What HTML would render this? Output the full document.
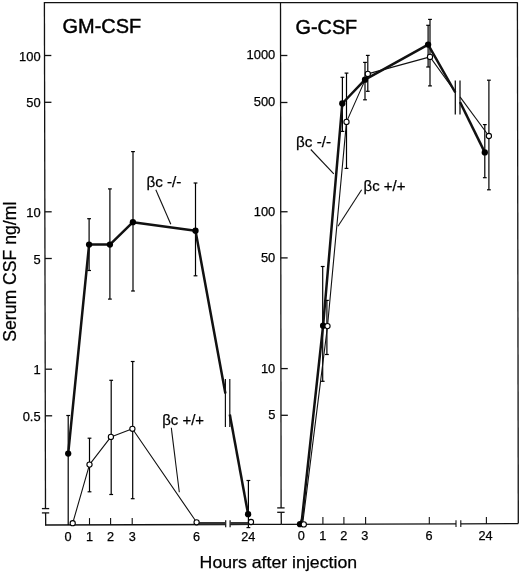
<!DOCTYPE html>
<html><head><meta charset="utf-8"><style>
html,body{margin:0;padding:0;background:#fff;}
body{width:520px;height:572px;overflow:hidden;}
svg{display:block;will-change:transform;}
text{font-family:"Liberation Sans", sans-serif;fill:#000;stroke:#000;stroke-width:0.25px;}
.big{stroke-width:0.45px;}
</style></head><body>
<svg width="520" height="572" viewBox="0 0 520 572">
<rect width="520" height="572" fill="#fff"/>
<line x1="44.4" y1="2.6" x2="517.4" y2="2.6" stroke="#111" stroke-width="1.3"/>
<line x1="44.4" y1="2.1" x2="45.5" y2="508.6" stroke="#111" stroke-width="1.3"/>
<line x1="45.6" y1="512.9" x2="45.7" y2="525.2" stroke="#111" stroke-width="1.3"/>
<line x1="41.9" y1="508.6" x2="49.2" y2="508.6" stroke="#111" stroke-width="1.3"/>
<line x1="41.9" y1="512.9" x2="49.2" y2="512.9" stroke="#111" stroke-width="1.3"/>
<line x1="280.5" y1="2.1" x2="281.1" y2="507.9" stroke="#111" stroke-width="1.3"/>
<line x1="281.2" y1="512.3" x2="281.3" y2="524.4" stroke="#111" stroke-width="1.3"/>
<line x1="277.2" y1="507.9" x2="284.6" y2="507.9" stroke="#111" stroke-width="1.3"/>
<line x1="277.2" y1="512.3" x2="284.6" y2="512.3" stroke="#111" stroke-width="1.3"/>
<line x1="517.4" y1="2.2" x2="518.3" y2="523.6" stroke="#111" stroke-width="1.3"/>
<line x1="45.0" y1="525.0" x2="225.7" y2="524.5" stroke="#111" stroke-width="1.3"/>
<line x1="230.1" y1="524.5" x2="281.3" y2="524.3" stroke="#111" stroke-width="1.3"/>
<line x1="225.7" y1="520.3" x2="225.7" y2="527.3" stroke="#111" stroke-width="1.2"/>
<line x1="230.1" y1="520.3" x2="230.1" y2="527.3" stroke="#111" stroke-width="1.2"/>
<line x1="281.3" y1="524.4" x2="456.0" y2="523.8" stroke="#111" stroke-width="1.3"/>
<line x1="460.8" y1="523.8" x2="518.3" y2="523.6" stroke="#111" stroke-width="1.3"/>
<line x1="456.0" y1="520.3" x2="456.0" y2="527.0" stroke="#111" stroke-width="1.1"/>
<line x1="460.8" y1="520.3" x2="460.8" y2="527.0" stroke="#111" stroke-width="1.1"/>
<line x1="44.52734225621415" y1="55.5" x2="51.327342256214145" y2="55.5" stroke="#111" stroke-width="1.3"/>
<text x="40.6" y="60.5" font-size="12.9" text-anchor="end" >100</text>
<line x1="44.63472275334608" y1="102.3" x2="51.43472275334608" y2="102.3" stroke="#111" stroke-width="1.3"/>
<text x="40.6" y="107.3" font-size="12.9" text-anchor="end" >50</text>
<line x1="44.88596558317399" y1="211.8" x2="51.68596558317399" y2="211.8" stroke="#111" stroke-width="1.3"/>
<text x="40.6" y="216.8" font-size="12.9" text-anchor="end" >10</text>
<line x1="44.993116634799236" y1="258.5" x2="51.79311663479923" y2="258.5" stroke="#111" stroke-width="1.3"/>
<text x="40.6" y="263.5" font-size="12.9" text-anchor="end" >5</text>
<line x1="45.247112810707456" y1="369.2" x2="52.04711281070745" y2="369.2" stroke="#111" stroke-width="1.3"/>
<text x="40.6" y="374.2" font-size="12.9" text-anchor="end" >1</text>
<line x1="45.354034416826" y1="415.8" x2="52.154034416826" y2="415.8" stroke="#111" stroke-width="1.3"/>
<text x="40.6" y="420.8" font-size="12.9" text-anchor="end" >0.5</text>
<line x1="280.5742829827916" y1="55.5" x2="287.3742829827916" y2="55.5" stroke="#111" stroke-width="1.3"/>
<text x="275.3" y="59.4" font-size="12.9" text-anchor="end" >1000</text>
<line x1="280.63718929254304" y1="102.5" x2="287.43718929254305" y2="102.5" stroke="#111" stroke-width="1.3"/>
<text x="275.3" y="106.4" font-size="12.9" text-anchor="end" >500</text>
<line x1="280.78341300191204" y1="211.75" x2="287.58341300191205" y2="211.75" stroke="#111" stroke-width="1.3"/>
<text x="275.3" y="215.65" font-size="12.9" text-anchor="end" >100</text>
<line x1="280.84518164435946" y1="257.9" x2="287.64518164435947" y2="257.9" stroke="#111" stroke-width="1.3"/>
<text x="275.3" y="261.79999999999995" font-size="12.9" text-anchor="end" >50</text>
<line x1="280.9933460803059" y1="368.6" x2="287.7933460803059" y2="368.6" stroke="#111" stroke-width="1.3"/>
<text x="275.3" y="372.5" font-size="12.9" text-anchor="end" >10</text>
<line x1="281.05585086042066" y1="415.3" x2="287.8558508604207" y2="415.3" stroke="#111" stroke-width="1.3"/>
<text x="275.3" y="419.2" font-size="12.9" text-anchor="end" >5</text>
<text x="68.1" y="540.6" font-size="12.7" text-anchor="middle" >0</text>
<line x1="89.5" y1="518.1" x2="89.5" y2="525" stroke="#111" stroke-width="1.1"/>
<text x="89.5" y="540.6" font-size="12.7" text-anchor="middle" >1</text>
<line x1="110.6" y1="518.1" x2="110.6" y2="525" stroke="#111" stroke-width="1.1"/>
<text x="110.6" y="540.6" font-size="12.7" text-anchor="middle" >2</text>
<line x1="132.2" y1="518.1" x2="132.2" y2="525" stroke="#111" stroke-width="1.1"/>
<text x="132.2" y="540.6" font-size="12.7" text-anchor="middle" >3</text>
<text x="196.5" y="540.6" font-size="12.7" text-anchor="middle" >6</text>
<text x="248.3" y="540.6" font-size="12.7" text-anchor="middle" >24</text>
<text x="301.2" y="539.9" font-size="12.7" text-anchor="middle" >0</text>
<line x1="322.9" y1="517.0" x2="322.9" y2="523.9" stroke="#111" stroke-width="1.1"/>
<text x="322.9" y="539.9" font-size="12.7" text-anchor="middle" >1</text>
<line x1="343.9" y1="517.0" x2="343.9" y2="523.9" stroke="#111" stroke-width="1.1"/>
<text x="343.7" y="539.9" font-size="12.7" text-anchor="middle" >2</text>
<line x1="365.6" y1="517.0" x2="365.6" y2="523.9" stroke="#111" stroke-width="1.1"/>
<text x="364.8" y="539.9" font-size="12.7" text-anchor="middle" >3</text>
<line x1="429.3" y1="517.0" x2="429.3" y2="523.9" stroke="#111" stroke-width="1.1"/>
<text x="429.0" y="539.9" font-size="12.7" text-anchor="middle" >6</text>
<line x1="486.4" y1="517.0" x2="486.4" y2="523.9" stroke="#111" stroke-width="1.1"/>
<text x="485.6" y="539.9" font-size="12.7" text-anchor="middle" >24</text>
<text x="62.6" y="33.1" font-size="19.5" text-anchor="start" class="big" textLength="78.6" lengthAdjust="spacingAndGlyphs">GM-CSF</text>
<text x="295.6" y="33.6" font-size="19.5" text-anchor="start" class="big" textLength="61.6" lengthAdjust="spacingAndGlyphs">G-CSF</text>
<text x="199.6" y="567.5" font-size="17.3" text-anchor="start"  textLength="157.5" lengthAdjust="spacingAndGlyphs">Hours after injection</text>
<text x="0" y="0" font-size="17.6" textLength="140" lengthAdjust="spacingAndGlyphs" transform="translate(15.5,341.7) rotate(-90)">Serum CSF ng/ml</text>
<line x1="68.2" y1="415.5" x2="68.2" y2="525" stroke="#000" stroke-width="1.2"/>
<line x1="66.3" y1="415.5" x2="70.10000000000001" y2="415.5" stroke="#000" stroke-width="1.2"/>
<line x1="89.1" y1="218.7" x2="89.1" y2="270.5" stroke="#000" stroke-width="1.2"/>
<line x1="87.19999999999999" y1="218.7" x2="91.0" y2="218.7" stroke="#000" stroke-width="1.2"/>
<line x1="87.19999999999999" y1="270.5" x2="91.0" y2="270.5" stroke="#000" stroke-width="1.2"/>
<line x1="109.9" y1="188.9" x2="109.9" y2="299.1" stroke="#000" stroke-width="1.2"/>
<line x1="108.0" y1="188.9" x2="111.80000000000001" y2="188.9" stroke="#000" stroke-width="1.2"/>
<line x1="108.0" y1="299.1" x2="111.80000000000001" y2="299.1" stroke="#000" stroke-width="1.2"/>
<line x1="133.0" y1="151.6" x2="133.0" y2="291.0" stroke="#000" stroke-width="1.2"/>
<line x1="131.1" y1="151.6" x2="134.9" y2="151.6" stroke="#000" stroke-width="1.2"/>
<line x1="131.1" y1="291.0" x2="134.9" y2="291.0" stroke="#000" stroke-width="1.2"/>
<line x1="195.5" y1="183.0" x2="195.5" y2="275.8" stroke="#000" stroke-width="1.2"/>
<line x1="193.6" y1="183.0" x2="197.4" y2="183.0" stroke="#000" stroke-width="1.2"/>
<line x1="193.6" y1="275.8" x2="197.4" y2="275.8" stroke="#000" stroke-width="1.2"/>
<line x1="248.4" y1="480.5" x2="248.4" y2="527.6" stroke="#000" stroke-width="1.2"/>
<line x1="246.5" y1="480.5" x2="250.3" y2="480.5" stroke="#000" stroke-width="1.2"/>
<line x1="246.5" y1="527.6" x2="250.3" y2="527.6" stroke="#000" stroke-width="1.2"/>
<line x1="89.5" y1="438.2" x2="89.5" y2="491.8" stroke="#000" stroke-width="1.2"/>
<line x1="87.6" y1="438.2" x2="91.4" y2="438.2" stroke="#000" stroke-width="1.2"/>
<line x1="87.6" y1="491.8" x2="91.4" y2="491.8" stroke="#000" stroke-width="1.2"/>
<line x1="111.2" y1="380.3" x2="111.2" y2="494.5" stroke="#000" stroke-width="1.2"/>
<line x1="109.3" y1="380.3" x2="113.10000000000001" y2="380.3" stroke="#000" stroke-width="1.2"/>
<line x1="109.3" y1="494.5" x2="113.10000000000001" y2="494.5" stroke="#000" stroke-width="1.2"/>
<line x1="132.7" y1="361.5" x2="132.7" y2="498.7" stroke="#000" stroke-width="1.2"/>
<line x1="130.79999999999998" y1="361.5" x2="134.6" y2="361.5" stroke="#000" stroke-width="1.2"/>
<line x1="130.79999999999998" y1="498.7" x2="134.6" y2="498.7" stroke="#000" stroke-width="1.2"/>
<polyline points="72.7,523.2 89.5,464.6 110.9,436.9 132.4,428.8 196.6,522.3" fill="none" stroke="#111" stroke-width="1.1" stroke-linejoin="round"/>
<line x1="198.5" y1="523.3" x2="225.7" y2="523.3" stroke="#333" stroke-width="2.6"/>
<line x1="230.1" y1="523.3" x2="249.0" y2="523.2" stroke="#333" stroke-width="2.6"/>
<polyline points="68.2,453.6 89.1,244.6 109.9,244.6 132.9,222.2 195.5,230.7 225.4,393.5" fill="none" stroke="#111" stroke-width="2.5" stroke-linejoin="round"/>
<polyline points="229.8,414.5 248.1,514.2" fill="none" stroke="#111" stroke-width="2.5" stroke-linejoin="round"/>
<line x1="225.4" y1="379" x2="225.4" y2="427.1" stroke="#111" stroke-width="1.2"/>
<line x1="229.8" y1="379" x2="229.8" y2="427.1" stroke="#111" stroke-width="1.2"/>
<circle cx="68.2" cy="453.6" r="3.15" fill="#000"/>
<circle cx="89.1" cy="244.6" r="3.15" fill="#000"/>
<circle cx="109.9" cy="244.6" r="3.15" fill="#000"/>
<circle cx="132.9" cy="222.2" r="3.15" fill="#000"/>
<circle cx="195.5" cy="230.7" r="3.15" fill="#000"/>
<circle cx="248.1" cy="514.2" r="3.15" fill="#000"/>
<circle cx="72.7" cy="523.2" r="2.6" fill="#fff" stroke="#000" stroke-width="1.1"/>
<circle cx="89.5" cy="464.6" r="2.6" fill="#fff" stroke="#000" stroke-width="1.1"/>
<circle cx="110.9" cy="436.9" r="2.6" fill="#fff" stroke="#000" stroke-width="1.1"/>
<circle cx="132.4" cy="428.8" r="2.6" fill="#fff" stroke="#000" stroke-width="1.1"/>
<circle cx="196.6" cy="522.3" r="2.6" fill="#fff" stroke="#000" stroke-width="1.1"/>
<circle cx="251.0" cy="522.0" r="2.6" fill="#fff" stroke="#000" stroke-width="1.1"/>
<text x="146.4" y="186.6" font-size="15.5" text-anchor="start"  textLength="35.0" lengthAdjust="spacingAndGlyphs">&#946;c -/-</text>
<line x1="155.8" y1="189.7" x2="170.8" y2="224.3" stroke="#111" stroke-width="1.1"/>
<text x="162.2" y="425.0" font-size="15.5" text-anchor="start"  textLength="41.9" lengthAdjust="spacingAndGlyphs">&#946;c +/+</text>
<line x1="171.3" y1="427.8" x2="179.3" y2="492.3" stroke="#111" stroke-width="1.1"/>
<line x1="322.7" y1="266.5" x2="322.7" y2="381.3" stroke="#000" stroke-width="1.2"/>
<line x1="320.8" y1="266.5" x2="324.59999999999997" y2="266.5" stroke="#000" stroke-width="1.2"/>
<line x1="320.8" y1="381.3" x2="324.59999999999997" y2="381.3" stroke="#000" stroke-width="1.2"/>
<line x1="342.4" y1="77.3" x2="342.4" y2="131.4" stroke="#000" stroke-width="1.2"/>
<line x1="340.5" y1="77.3" x2="344.29999999999995" y2="77.3" stroke="#000" stroke-width="1.2"/>
<line x1="340.5" y1="131.4" x2="344.29999999999995" y2="131.4" stroke="#000" stroke-width="1.2"/>
<line x1="365.0" y1="62.4" x2="365.0" y2="99.8" stroke="#000" stroke-width="1.2"/>
<line x1="363.1" y1="62.4" x2="366.9" y2="62.4" stroke="#000" stroke-width="1.2"/>
<line x1="363.1" y1="99.8" x2="366.9" y2="99.8" stroke="#000" stroke-width="1.2"/>
<line x1="428.1" y1="25.3" x2="428.1" y2="67.0" stroke="#000" stroke-width="1.2"/>
<line x1="426.20000000000005" y1="25.3" x2="430.0" y2="25.3" stroke="#000" stroke-width="1.2"/>
<line x1="426.20000000000005" y1="67.0" x2="430.0" y2="67.0" stroke="#000" stroke-width="1.2"/>
<line x1="484.8" y1="124.6" x2="484.8" y2="177.7" stroke="#000" stroke-width="1.2"/>
<line x1="482.90000000000003" y1="124.6" x2="486.7" y2="124.6" stroke="#000" stroke-width="1.2"/>
<line x1="482.90000000000003" y1="177.7" x2="486.7" y2="177.7" stroke="#000" stroke-width="1.2"/>
<line x1="326.9" y1="300.4" x2="326.9" y2="354.5" stroke="#000" stroke-width="1.2"/>
<line x1="325.0" y1="300.4" x2="328.79999999999995" y2="300.4" stroke="#000" stroke-width="1.2"/>
<line x1="325.0" y1="354.5" x2="328.79999999999995" y2="354.5" stroke="#000" stroke-width="1.2"/>
<line x1="346.5" y1="73.1" x2="346.5" y2="168.4" stroke="#000" stroke-width="1.2"/>
<line x1="344.6" y1="73.1" x2="348.4" y2="73.1" stroke="#000" stroke-width="1.2"/>
<line x1="344.6" y1="168.4" x2="348.4" y2="168.4" stroke="#000" stroke-width="1.2"/>
<line x1="367.8" y1="55.4" x2="367.8" y2="91.3" stroke="#000" stroke-width="1.2"/>
<line x1="365.90000000000003" y1="55.4" x2="369.7" y2="55.4" stroke="#000" stroke-width="1.2"/>
<line x1="365.90000000000003" y1="91.3" x2="369.7" y2="91.3" stroke="#000" stroke-width="1.2"/>
<line x1="430.0" y1="19.4" x2="430.0" y2="85.9" stroke="#000" stroke-width="1.2"/>
<line x1="428.1" y1="19.4" x2="431.9" y2="19.4" stroke="#000" stroke-width="1.2"/>
<line x1="428.1" y1="85.9" x2="431.9" y2="85.9" stroke="#000" stroke-width="1.2"/>
<line x1="488.9" y1="80.2" x2="488.9" y2="189.8" stroke="#000" stroke-width="1.2"/>
<line x1="487.0" y1="80.2" x2="490.79999999999995" y2="80.2" stroke="#000" stroke-width="1.2"/>
<line x1="487.0" y1="189.8" x2="490.79999999999995" y2="189.8" stroke="#000" stroke-width="1.2"/>
<polyline points="302.6,524.3 327.5,326.1 346.5,121.9 367.8,73.9 430.0,56.9 455.3,92" fill="none" stroke="#111" stroke-width="1.1" stroke-linejoin="round"/>
<polyline points="460.0,96.8 488.9,136.0" fill="none" stroke="#111" stroke-width="1.1" stroke-linejoin="round"/>
<polyline points="300.3,524.4 302.0,519 323.1,325.7 342.3,103.5 365.0,79.7 428.1,44.6 455.3,92.5" fill="none" stroke="#111" stroke-width="2.5" stroke-linejoin="round"/>
<polyline points="460.0,102 484.8,152.4" fill="none" stroke="#111" stroke-width="2.5" stroke-linejoin="round"/>
<line x1="455.3" y1="80.6" x2="455.3" y2="114.6" stroke="#111" stroke-width="1.3"/>
<line x1="460.0" y1="80.6" x2="460.0" y2="114.6" stroke="#111" stroke-width="1.3"/>
<circle cx="300.0" cy="524.2" r="3.15" fill="#000"/>
<circle cx="323.1" cy="325.7" r="3.15" fill="#000"/>
<circle cx="342.3" cy="103.5" r="3.15" fill="#000"/>
<circle cx="365.0" cy="79.7" r="3.15" fill="#000"/>
<circle cx="428.1" cy="44.6" r="3.15" fill="#000"/>
<circle cx="484.8" cy="152.4" r="3.15" fill="#000"/>
<circle cx="303.8" cy="524.4" r="2.6" fill="#fff" stroke="#000" stroke-width="1.1"/>
<circle cx="327.5" cy="326.1" r="2.6" fill="#fff" stroke="#000" stroke-width="1.1"/>
<circle cx="346.5" cy="121.9" r="2.6" fill="#fff" stroke="#000" stroke-width="1.1"/>
<circle cx="367.8" cy="73.9" r="2.6" fill="#fff" stroke="#000" stroke-width="1.1"/>
<circle cx="430.0" cy="56.9" r="2.6" fill="#fff" stroke="#000" stroke-width="1.1"/>
<circle cx="488.9" cy="136.0" r="2.6" fill="#fff" stroke="#000" stroke-width="1.1"/>
<text x="296.1" y="147.0" font-size="15.5" text-anchor="start"  textLength="35.0" lengthAdjust="spacingAndGlyphs">&#946;c -/-</text>
<line x1="310.8" y1="149.5" x2="333.8" y2="173.8" stroke="#111" stroke-width="1.1"/>
<text x="363.6" y="190.8" font-size="15.5" text-anchor="start"  textLength="41.9" lengthAdjust="spacingAndGlyphs">&#946;c +/+</text>
<line x1="361.6" y1="189.8" x2="338.0" y2="226.3" stroke="#111" stroke-width="1.1"/>
</svg>
</body></html>
